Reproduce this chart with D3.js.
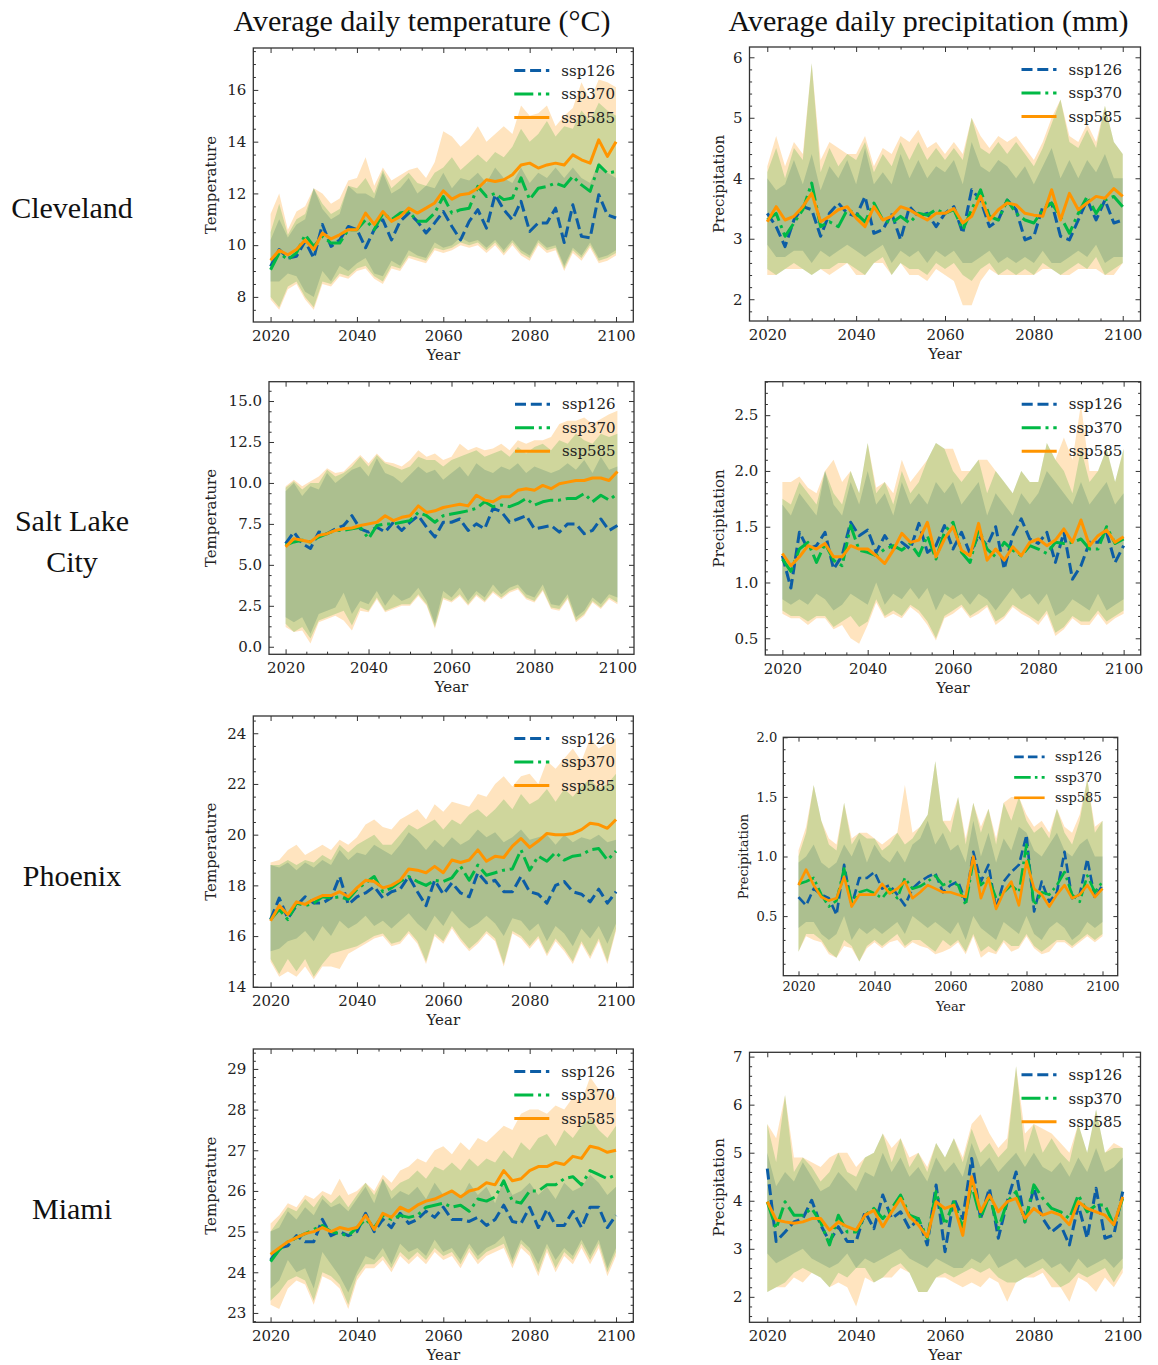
<!DOCTYPE html>
<html><head><meta charset="utf-8">
<script src="https://cdn.jsdelivr.net/npm/d3@7"></script>
<style>body{margin:0;background:#fff}svg{display:block}</style>
</head><body>
<script>
// ---------- DATA ----------
const YEARS=[2020,2022,2024,2026,2028,2030,2032,2034,2036,2038,2040,2042,2044,2046,2048,2050,2052,2054,2056,2058,2060,2062,2064,2066,2068,2070,2072,2074,2076,2078,2080,2082,2084,2086,2088,2090,2092,2094,2096,2098,2100];
const SERIES=["ssp126","ssp370","ssp585"];
const COLUMN_TITLES=["Average daily temperature (°C)","Average daily precipitation (mm)"];
const CITIES=[["Cleveland"],["Salt Lake","City"],["Phoenix"],["Miami"]];
const X_TICKS=[2020,2040,2060,2080,2100];

// Cleveland temperature
const CT126=[9.18,9.83,9.5,9.57,10.15,9.5,10.8,9.95,10.2,10.72,10.6,9.9,10.6,10.98,10.2,10.92,11.24,10.92,10.47,10.86,11.3,10.72,10.2,10.92,11.37,10.66,11.95,11.37,10.98,11.69,10.53,10.86,10.86,11.43,10.1,11.56,10.34,10.28,11.95,11.17,11.05];
const CT370=[9.05,9.7,9.44,9.7,10.4,9.95,10.34,10.08,10.08,10.6,10.6,10.98,10.6,11.24,10.98,11.24,11.3,10.92,10.92,11.24,11.88,11.24,11.37,11.43,12.27,11.88,12.0,11.76,11.82,12.6,11.76,12.2,12.27,12.4,12.27,12.66,12.33,12.08,13.1,12.78,12.85];
const CT585=[9.42,9.8,9.63,9.83,10.2,9.83,10.47,10.24,10.4,10.6,10.6,11.24,10.8,11.3,10.92,11.1,11.43,11.24,11.43,11.63,12.1,11.78,11.95,12.0,12.2,12.53,12.46,12.53,12.72,13.1,13.17,12.98,13.1,13.17,13.1,13.49,13.3,13.17,14.07,13.43,14.0];
const CT126lo=[8.6,8.6,8.9,8.8,8.2,8.0,9.0,8.6,9.2,9.0,9.3,9.5,8.9,8.8,9.4,9.2,9.8,9.6,9.5,10.1,9.9,10.0,10.3,10.1,10.2,9.9,10.2,9.8,10.2,9.8,9.6,10.2,9.9,10.0,9.2,9.9,9.6,10.1,9.5,9.6,9.8];
const CT126hi=[10.2,11.0,10.3,10.8,11.0,12.2,11.4,11.0,11.2,12.3,12.0,12.0,11.8,12.8,12.0,12.2,12.6,12.0,12.3,12.2,12.8,12.2,12.6,12.5,12.8,12.4,13.0,12.6,12.4,13.0,12.4,12.8,12.6,13.0,12.6,13.0,12.6,12.4,13.2,12.8,12.6];
const CT370lo=[8.0,7.6,8.4,8.6,8.0,7.6,8.6,8.5,8.9,8.8,9.1,9.2,8.8,8.6,9.2,9.1,9.6,9.5,9.4,9.9,9.8,9.9,10.1,10.0,10.1,9.8,10.1,9.7,10.1,9.7,9.5,10.1,9.8,9.9,9.1,9.8,9.5,10.0,9.4,9.5,9.7];
const CT370hi=[10.5,11.6,10.4,11.0,11.2,12.2,11.6,11.2,11.4,12.3,12.2,12.6,12.0,12.9,12.2,12.5,12.8,12.4,12.3,12.8,13.0,13.4,12.9,13.2,13.5,13.2,13.6,13.4,13.8,14.5,14.0,14.3,14.8,14.2,14.6,14.5,15.2,14.8,15.5,15.2,15.0];
const CT585lo=[7.9,7.5,8.3,8.5,7.9,7.5,8.5,8.4,8.8,8.7,9.0,9.1,8.7,8.5,9.1,9.0,9.5,9.4,9.3,9.8,9.7,9.8,10.0,9.9,10.0,9.7,10.0,9.6,10.0,9.6,9.4,10.0,9.7,9.8,9.0,9.7,9.4,9.9,9.3,9.4,9.6];
const CT585hi=[11.2,12.0,10.6,11.3,11.5,12.2,12.0,11.6,11.8,12.5,12.6,13.4,12.3,13.0,12.5,12.7,12.9,13.0,12.6,13.2,14.4,14.2,13.8,14.1,14.6,14.0,14.3,14.6,14.3,15.4,15.0,15.1,15.4,14.6,15.0,15.3,16.3,15.6,16.4,16.3,16.1];

// Cleveland precipitation
const CP126=[3.42,3.2,2.87,3.31,3.53,3.48,3.04,3.42,3.59,3.42,3.37,3.7,3.09,3.15,3.42,2.98,3.53,3.37,3.42,3.2,3.42,3.53,3.09,3.81,3.64,3.2,3.31,3.64,3.48,2.98,3.04,3.53,3.59,3.04,2.98,3.31,3.64,3.31,3.64,3.26,3.31];
const CP370=[3.31,3.42,3.04,3.26,3.48,3.92,3.2,3.28,3.2,3.48,3.42,3.28,3.59,3.31,3.26,3.37,3.26,3.42,3.39,3.48,3.42,3.48,3.15,3.48,3.81,3.37,3.31,3.64,3.42,3.31,3.26,3.48,3.59,3.37,3.09,3.42,3.7,3.42,3.64,3.7,3.53];
const CP585=[3.28,3.53,3.31,3.37,3.53,3.75,3.28,3.37,3.48,3.53,3.34,3.2,3.53,3.31,3.37,3.53,3.48,3.39,3.31,3.42,3.42,3.5,3.26,3.37,3.7,3.31,3.48,3.59,3.56,3.42,3.39,3.37,3.81,3.31,3.75,3.48,3.59,3.7,3.67,3.83,3.7];
const CP126lo=[2.9,2.7,2.7,2.8,2.8,2.6,2.8,2.7,2.8,2.9,2.8,2.7,2.8,2.9,2.6,2.8,2.7,2.8,2.6,2.8,2.7,2.8,2.6,2.6,2.7,2.8,2.6,2.7,2.6,2.7,2.6,2.8,2.6,2.6,2.7,2.8,2.7,2.9,2.6,2.7,2.7];
const CP126hi=[4.0,3.8,3.9,4.3,3.9,4.4,3.8,4.2,4.0,4.3,3.9,4.5,3.9,4.1,3.9,4.4,4.0,4.3,4.0,4.2,4.1,4.3,3.9,4.6,4.2,4.1,4.3,4.2,4.0,4.2,3.9,4.2,4.5,4.0,4.3,4.0,4.3,4.1,4.4,4.0,4.0];
const CP370lo=[2.5,2.4,2.5,2.6,2.5,2.4,2.5,2.5,2.6,2.6,2.5,2.4,2.6,2.7,2.4,2.6,2.5,2.5,2.4,2.6,2.5,2.6,2.4,2.3,2.5,2.6,2.4,2.5,2.4,2.5,2.4,2.6,2.5,2.4,2.5,2.6,2.5,2.7,2.4,2.5,2.6];
const CP370hi=[4.1,4.5,4.0,4.5,4.3,5.9,4.1,4.5,4.2,4.4,4.3,4.6,4.1,4.4,4.2,4.6,4.3,4.6,4.3,4.5,4.3,4.5,4.3,5.0,4.5,4.4,4.6,4.4,4.6,4.4,4.2,4.5,4.9,5.3,4.6,4.5,4.8,4.5,5.2,4.6,4.4];
const CP585lo=[2.4,2.4,2.5,2.5,2.5,2.4,2.5,2.4,2.5,2.6,2.4,2.4,2.6,2.6,2.4,2.6,2.4,2.4,2.3,2.5,2.4,2.3,1.9,1.9,2.3,2.5,2.4,2.4,2.4,2.4,2.4,2.5,2.5,2.4,2.4,2.5,2.5,2.5,2.4,2.4,2.6];
const CP585hi=[4.2,4.7,4.2,4.6,4.4,5.9,4.3,4.6,4.5,4.4,4.4,4.7,4.2,4.5,4.4,4.7,4.6,4.8,4.5,4.6,4.4,4.6,4.4,5.0,4.7,4.5,4.7,4.6,4.7,4.5,4.3,4.6,5.0,5.3,4.7,4.6,4.9,4.6,5.2,4.6,4.4];

// Salt Lake City temperature
const ST126=[6.3,7.0,6.3,6.0,7.0,6.9,7.2,7.4,8.0,7.2,7.0,7.3,7.0,7.6,7.1,7.6,8.0,7.3,6.7,7.6,7.6,7.8,7.1,7.5,7.2,8.45,8.25,7.6,7.8,8.0,7.2,7.3,7.4,7.0,7.5,7.5,6.9,7.1,7.8,7.1,7.4];
const ST370=[6.2,6.4,6.5,6.4,6.7,6.9,7.1,7.1,7.2,7.3,6.6,7.4,7.5,7.5,7.6,7.7,8.2,8.0,7.6,8.0,8.1,8.2,8.3,8.45,8.85,8.55,8.65,8.55,8.75,9.05,8.65,8.85,8.95,8.95,9.05,9.05,9.35,8.85,9.25,8.95,9.35];
const ST585=[6.1,6.6,6.5,6.4,6.8,6.9,7.1,7.2,7.25,7.4,7.5,7.6,8.0,7.7,7.9,8.0,8.6,8.2,8.3,8.5,8.6,8.7,8.6,9.25,8.95,8.85,9.15,9.15,9.55,9.65,9.55,9.85,9.65,9.95,10.05,10.15,10.15,10.3,10.3,10.15,10.7];
const ST126lo=[1.8,1.5,1.8,0.8,2.0,2.2,2.4,3.3,2.0,2.8,2.6,3.4,2.5,3.2,2.8,3.0,3.6,2.8,1.4,3.4,3.0,3.6,2.8,3.4,3.0,3.8,3.2,3.6,3.8,3.2,3.0,3.8,2.6,2.5,3.2,1.8,2.2,3.0,2.6,3.2,3.0];
const ST126hi=[9.5,10.0,9.2,9.8,9.6,10.6,10.0,10.4,10.8,11.0,10.4,11.5,10.6,10.4,10.0,10.5,11.0,10.6,10.8,10.2,10.6,11.0,10.4,11.2,10.8,10.6,11.0,10.8,11.2,10.6,11.0,10.8,10.6,10.8,11.2,10.8,11.4,10.6,11.6,10.8,11.0];
const ST370lo=[1.4,0.9,1.2,0.5,1.6,1.8,2.0,2.2,1.3,2.4,2.2,3.0,2.2,2.4,2.6,2.6,3.2,2.6,1.2,3.0,2.8,3.2,2.6,3.2,2.8,3.4,3.0,3.4,3.6,3.0,2.8,3.5,2.4,2.3,3.0,1.6,2.0,2.8,2.4,3.0,2.7];
const ST370hi=[9.7,10.1,9.6,10.0,10.0,10.8,10.4,10.6,11.0,11.6,11.0,11.7,11.2,11.0,10.8,11.0,11.6,11.4,11.4,11.0,11.4,11.6,11.8,12.0,11.6,11.8,12.0,11.6,12.2,11.8,12.2,12.4,12.0,12.6,12.4,13.0,12.6,12.4,13.0,12.8,13.0];
const ST585lo=[1.2,0.9,1.0,0.2,1.5,1.7,1.9,1.6,1.0,2.2,2.1,2.9,2.1,2.3,2.5,2.5,3.1,2.5,1.1,2.9,2.7,3.1,2.5,3.1,2.7,3.3,2.9,3.3,3.5,2.9,2.7,3.4,2.3,2.2,2.9,1.5,1.9,2.7,2.3,2.9,2.6];
const ST585hi=[9.8,10.2,9.8,10.1,10.4,10.9,10.6,10.7,11.2,11.7,11.2,11.8,11.3,11.2,11.0,11.4,12.0,11.6,11.8,11.4,11.6,12.4,12.0,12.2,12.0,12.1,12.4,12.0,12.6,12.4,12.6,12.6,12.8,13.6,13.8,13.8,14.0,13.6,13.9,14.2,14.4];

// Salt Lake City precipitation
const SP126=[1.24,0.95,1.45,1.30,1.33,1.45,1.12,1.24,1.54,1.42,1.47,1.27,1.42,1.30,1.36,1.30,1.53,1.27,1.33,1.51,1.30,1.45,1.26,1.42,1.33,1.50,1.12,1.42,1.57,1.39,1.35,1.45,1.18,1.45,1.03,1.15,1.36,1.36,1.45,1.18,1.33];
const SP370=[1.21,1.1,1.30,1.36,1.18,1.35,1.20,1.15,1.51,1.29,1.27,1.24,1.30,1.33,1.29,1.35,1.24,1.42,1.21,1.45,1.54,1.27,1.18,1.48,1.30,1.23,1.36,1.29,1.24,1.33,1.30,1.26,1.36,1.35,1.36,1.39,1.30,1.30,1.50,1.35,1.39];
const SP585=[1.26,1.15,1.23,1.33,1.30,1.35,1.23,1.23,1.33,1.30,1.30,1.24,1.17,1.29,1.44,1.36,1.38,1.54,1.23,1.39,1.50,1.29,1.24,1.53,1.20,1.30,1.20,1.32,1.24,1.36,1.39,1.33,1.38,1.48,1.36,1.56,1.33,1.42,1.47,1.36,1.41];
const SP126lo=[0.85,0.8,0.85,0.8,0.9,0.85,0.75,0.8,0.9,0.85,0.8,1.0,0.8,0.9,0.85,0.95,0.85,0.95,0.75,0.9,0.85,0.9,0.8,0.9,0.85,0.75,0.85,0.95,0.85,0.9,0.8,0.9,0.7,0.75,0.85,0.8,0.75,0.9,0.75,0.8,0.85];
const SP126hi=[1.7,1.6,1.8,1.7,1.6,2.0,1.7,1.6,1.9,1.7,2.0,1.7,1.8,1.6,1.9,1.7,1.8,1.7,1.9,1.8,1.9,1.7,1.8,1.9,1.6,1.8,1.7,1.6,1.8,1.7,1.8,2.0,1.9,1.8,1.7,1.9,1.7,1.8,1.9,1.7,1.8];
const SP370lo=[0.75,0.7,0.7,0.65,0.7,0.7,0.6,0.65,0.7,0.6,0.65,0.85,0.7,0.75,0.7,0.8,0.75,0.65,0.5,0.7,0.75,0.8,0.7,0.75,0.8,0.65,0.7,0.8,0.75,0.7,0.65,0.75,0.55,0.6,0.7,0.65,0.65,0.75,0.65,0.7,0.75];
const SP370hi=[1.75,1.7,1.9,1.8,1.7,2.0,1.8,1.7,2.0,1.8,2.25,1.8,1.9,1.7,2.0,1.8,1.9,2.1,2.25,2.2,2.0,1.9,2.0,2.1,1.8,2.0,1.9,1.8,2.0,1.9,1.9,2.25,2.1,2.0,1.8,2.2,1.9,2.0,2.2,1.9,2.2];
const SP585lo=[0.72,0.68,0.68,0.62,0.68,0.68,0.58,0.62,0.5,0.45,0.62,0.82,0.68,0.72,0.68,0.78,0.72,0.62,0.48,0.68,0.72,0.78,0.68,0.72,0.78,0.62,0.68,0.78,0.72,0.68,0.62,0.72,0.52,0.58,0.68,0.62,0.62,0.72,0.62,0.68,0.72];
const SP585hi=[1.9,1.9,1.95,1.85,1.8,2.0,2.1,1.9,2.0,1.8,2.25,1.85,1.9,1.8,2.1,1.9,2.0,2.1,2.25,2.2,2.2,2.0,2.0,2.1,2.1,2.0,1.9,1.8,2.0,1.9,1.9,2.25,2.1,2.3,2.1,2.6,2.0,2.0,2.2,1.9,2.2];

// Phoenix temperature
const PT126=[16.65,17.5,16.7,17.2,17.55,17.3,17.3,17.5,18.35,17.25,17.55,17.7,17.95,17.5,17.75,17.85,18.35,17.75,17.2,18.2,17.65,18.1,17.7,17.55,18.5,18.1,18.2,17.75,17.75,18.35,17.75,17.65,17.3,18.0,18.15,17.75,17.65,17.35,17.85,17.3,17.75];
const PT370=[16.65,17.05,16.65,17.3,17.2,17.3,17.55,17.5,17.55,17.45,17.85,18.1,18.35,17.75,17.9,18.15,18.35,18.15,18.0,18.2,18.15,18.3,18.75,18.2,18.8,18.4,18.5,18.6,18.65,19.4,18.6,19.15,18.95,19.3,19.0,19.15,19.2,19.4,19.45,19.0,19.35];
const PT585=[16.6,17.2,16.85,17.35,17.25,17.45,17.6,17.6,17.75,17.55,17.9,18.2,18.15,17.9,18.0,18.2,18.65,18.6,18.5,18.75,18.5,19.0,18.9,19.0,19.4,18.95,19.15,19.1,19.55,19.85,19.5,19.75,20.05,20.0,20.0,20.05,20.2,20.45,20.4,20.25,20.6];
const PT126lo=[15.4,15.5,15.8,15.9,16.2,15.8,16.4,16.0,16.6,16.3,16.5,16.8,16.4,16.6,16.3,16.6,16.9,16.5,16.2,16.8,16.4,17.0,16.6,16.3,16.5,16.8,16.5,16.0,16.7,16.6,16.2,16.5,15.8,16.4,16.1,15.6,16.3,15.9,16.4,15.7,16.5];
const PT126hi=[18.8,18.7,18.9,18.6,18.9,18.7,19.0,18.8,19.4,19.0,19.3,19.2,19.6,19.4,19.2,19.6,20.1,19.8,19.4,19.8,19.5,19.9,19.6,19.8,20.2,19.9,20.1,19.7,19.9,20.2,19.8,19.9,20.0,19.6,20.0,19.7,19.9,19.8,20.0,19.7,19.8];
const PT370lo=[15.1,14.5,15.1,14.6,15.1,14.4,14.9,15.3,15.4,15.5,15.6,15.8,16.0,16.1,15.7,15.8,16.2,15.8,15.0,16.1,15.8,16.4,15.9,15.5,15.8,16.2,15.9,14.9,16.2,16.0,15.6,16.0,15.3,15.9,15.5,15.0,15.8,15.2,15.9,15.0,16.3];
const PT370hi=[18.8,18.8,19.0,18.8,19.0,18.9,19.2,19.0,19.6,19.3,19.6,19.8,20.0,19.6,19.6,20.0,20.4,20.2,20.4,20.6,20.2,20.6,20.4,20.8,21.0,20.7,21.0,21.4,21.0,21.6,21.2,21.4,21.8,21.3,21.8,21.5,21.9,22.2,21.8,22.0,22.4];
const PT585lo=[15.0,14.4,14.6,14.4,14.8,14.3,14.8,14.8,14.7,15.3,15.5,15.7,15.9,16.0,15.6,15.7,16.1,15.7,14.9,16.0,15.7,16.3,15.8,15.4,15.7,16.1,15.8,14.8,16.1,15.9,15.5,15.9,15.2,15.8,15.4,14.9,15.7,15.1,15.8,14.9,16.2];
const PT585hi=[18.9,19.0,19.4,19.6,19.2,19.4,19.6,19.4,19.8,19.6,19.9,20.4,20.6,20.3,20.2,20.6,20.8,21.0,20.6,21.2,20.9,21.3,21.2,21.1,21.6,21.5,22.0,22.3,21.9,22.3,22.4,22.0,22.9,22.6,23.0,23.4,22.9,23.8,23.4,23.6,23.8];

// Phoenix precipitation
const PP126=[0.66,0.59,0.73,0.68,0.65,0.51,0.93,0.59,0.82,0.82,0.87,0.73,0.76,0.68,0.59,0.73,0.79,0.83,0.86,0.70,0.76,0.79,0.62,1.04,0.79,0.93,0.56,0.79,0.87,0.93,1.18,0.54,0.79,0.62,0.70,1.04,0.65,0.68,0.98,0.65,0.76];
const PP370=[0.77,0.79,0.82,0.68,0.58,0.63,0.90,0.62,0.70,0.72,0.69,0.65,0.73,0.65,0.82,0.73,0.75,0.79,0.84,0.76,0.79,0.76,0.59,0.96,0.76,0.82,0.65,0.70,0.76,0.70,1.10,0.59,0.70,0.68,0.76,0.87,0.68,0.62,0.84,0.70,0.79];
const PP585=[0.76,0.89,0.76,0.66,0.63,0.65,0.83,0.58,0.68,0.68,0.68,0.77,0.69,0.73,0.79,0.65,0.70,0.76,0.73,0.70,0.70,0.68,0.66,1.0,0.65,0.82,0.56,0.70,0.79,0.59,0.96,0.73,0.68,0.58,0.68,0.76,0.65,0.68,0.76,0.66,0.73];
const PP126lo=[0.4,0.45,0.45,0.35,0.3,0.35,0.5,0.3,0.4,0.35,0.4,0.35,0.4,0.45,0.35,0.5,0.45,0.4,0.45,0.4,0.35,0.45,0.3,0.5,0.4,0.35,0.3,0.45,0.4,0.35,0.5,0.35,0.3,0.4,0.45,0.4,0.3,0.35,0.45,0.4,0.45];
const PP126hi=[0.95,1.0,1.1,0.95,0.9,0.95,1.1,1.0,1.15,0.95,1.1,1.0,0.95,1.05,0.95,1.1,1.15,1.3,1.1,1.2,1.05,1.1,0.95,1.3,1.0,1.2,0.95,1.15,1.05,1.25,1.2,1.05,1.0,1.1,1.2,1.05,1.0,1.1,1.15,1.0,1.0];
const PP370lo=[0.2,0.35,0.35,0.3,0.2,0.15,0.3,0.25,0.12,0.25,0.3,0.25,0.3,0.35,0.25,0.3,0.3,0.25,0.2,0.3,0.25,0.3,0.2,0.35,0.2,0.25,0.2,0.3,0.25,0.25,0.35,0.25,0.2,0.25,0.3,0.3,0.25,0.3,0.35,0.3,0.35];
const PP370hi=[1.0,1.2,1.6,1.3,1.1,1.05,1.45,1.1,1.2,1.15,1.15,1.05,1.1,1.2,1.1,1.15,1.25,1.35,1.8,1.3,1.2,1.5,1.1,1.45,1.2,1.4,1.1,1.45,1.3,1.5,1.3,1.2,1.25,1.15,1.4,1.2,1.1,1.3,1.65,1.2,1.3];
const PP585lo=[0.2,0.33,0.3,0.28,0.18,0.15,0.25,0.23,0.12,0.23,0.28,0.23,0.28,0.3,0.23,0.28,0.25,0.23,0.18,0.2,0.23,0.28,0.18,0.33,0.15,0.2,0.18,0.28,0.2,0.23,0.33,0.23,0.18,0.2,0.28,0.28,0.23,0.28,0.33,0.28,0.33];
const PP585hi=[1.05,1.25,1.6,1.3,1.15,1.1,1.45,1.15,1.2,1.2,1.15,1.1,1.15,1.2,1.6,1.2,1.25,1.35,1.8,1.3,1.3,1.5,1.15,1.45,1.25,1.4,1.15,1.45,1.5,1.5,1.35,1.25,1.3,1.2,1.4,1.25,1.2,1.35,1.65,1.25,1.3];

// Miami temperature
const MT126=[24.3,24.6,24.65,24.9,24.75,24.75,25.3,24.9,25.0,24.9,25.0,25.45,25.0,25.3,25.1,25.45,25.2,25.3,25.5,25.35,25.6,25.3,25.3,25.25,25.35,25.15,25.3,25.65,25.25,25.2,25.6,25.1,25.55,25.15,25.15,25.5,25.1,25.6,25.6,25.1,25.4];
const MT370=[24.26,24.55,24.75,24.85,24.95,25.05,25.15,25.0,24.95,24.9,25.1,25.3,25.1,25.4,25.3,25.4,25.35,25.4,25.6,25.65,25.7,25.6,25.65,25.5,25.8,25.75,25.85,26.25,25.75,25.7,26.0,26.0,26.15,26.15,26.3,26.35,26.15,26.5,26.4,26.3,26.4];
const MT585=[24.44,24.6,24.75,24.85,24.95,25.0,25.1,25.0,25.1,25.05,25.1,25.4,25.05,25.45,25.35,25.6,25.5,25.65,25.75,25.8,25.9,26.0,25.85,26.0,26.05,26.2,26.15,26.5,26.25,26.3,26.5,26.6,26.6,26.7,26.65,26.85,26.8,27.1,27.05,26.95,27.0];
const MT126lo=[23.6,23.8,24.3,24.0,24.1,23.6,24.5,24.2,23.9,23.5,24.0,24.4,24.3,24.6,24.2,24.7,24.5,24.6,24.4,24.8,24.5,24.6,24.3,24.7,24.4,24.6,24.7,24.9,24.3,24.8,24.6,24.2,24.7,24.3,24.6,24.4,24.8,24.4,24.8,24.1,24.6];
const MT126hi=[25.0,25.1,25.5,25.3,25.6,25.4,25.8,25.6,25.7,25.5,25.8,26.1,25.7,26.3,25.8,26.0,25.9,26.1,25.8,26.2,25.9,26.0,25.8,26.2,25.9,26.1,25.7,26.3,25.9,26.0,26.2,25.9,26.1,25.8,26.2,26.0,26.1,26.4,26.2,25.9,26.1];
const MT370lo=[23.3,23.5,23.8,23.9,23.8,23.3,24.0,23.9,23.7,23.2,23.9,24.2,24.2,24.4,24.1,24.5,24.3,24.5,24.3,24.6,24.4,24.5,24.2,24.6,24.3,24.5,24.6,24.7,24.2,24.7,24.5,24.0,24.6,24.1,24.5,24.3,24.7,24.3,24.7,24.0,24.5];
const MT370hi=[25.0,25.3,25.6,25.5,25.8,25.6,25.9,25.7,25.9,25.6,25.9,26.2,25.9,26.3,26.0,26.2,26.3,26.5,26.3,26.6,26.5,26.7,26.5,26.8,26.6,26.8,26.7,27.0,26.8,27.2,27.0,27.3,27.4,27.1,27.5,27.3,27.6,27.8,27.5,27.3,27.6];
const MT585lo=[23.2,23.1,23.6,23.8,23.7,23.2,23.9,23.8,23.6,23.1,23.8,24.1,24.1,24.3,24.0,24.4,24.2,24.4,24.2,24.5,24.3,24.4,24.1,24.5,24.2,24.4,24.5,24.6,24.1,24.6,24.4,23.9,24.5,24.0,24.4,24.2,24.6,24.2,24.6,23.9,24.4];
const MT585hi=[25.2,25.4,25.7,25.6,25.9,25.8,26.0,25.9,26.3,25.9,26.0,26.2,26.0,26.4,26.2,26.5,26.6,26.8,26.7,27.0,27.1,26.9,27.2,27.0,27.3,27.2,27.4,27.6,27.5,27.9,28.0,28.0,27.9,28.1,28.0,28.3,28.2,28.8,28.5,28.4,28.3];

// Miami precipitation
const MP126=[4.67,3.15,3.35,3.56,3.63,4.01,3.5,3.15,3.46,3.15,3.15,3.77,3.42,4.12,3.63,3.77,3.42,3.63,3.08,4.33,2.94,4.05,3.63,4.88,3.63,4.26,3.22,3.98,4.6,3.56,4.26,3.63,3.35,3.5,3.08,3.91,3.22,4.26,3.22,3.29,4.19];
const MP370=[3.98,3.42,3.98,3.7,3.7,3.84,3.56,3.08,3.7,3.35,3.35,3.7,3.84,3.63,3.84,4.12,3.7,3.63,3.22,4.19,3.5,3.98,3.42,4.33,3.63,4.12,3.42,3.98,4.19,3.56,4.33,4.05,3.84,3.77,3.63,4.12,3.77,3.91,3.91,3.5,4.05];
const MP585=[3.98,3.6,3.56,3.53,3.56,3.63,3.63,3.39,3.56,3.46,3.39,3.7,3.8,3.46,3.77,4.05,3.67,3.5,3.25,3.98,3.84,3.91,3.28,4.5,3.77,4.12,3.77,3.98,4.05,3.63,3.84,3.7,3.77,3.7,3.5,3.98,3.84,3.77,3.7,3.5,4.08];
const MP126lo=[2.9,2.7,2.8,2.9,3.0,2.8,2.7,2.6,2.7,2.9,2.6,2.8,2.7,2.8,2.9,3.0,2.8,2.7,2.6,2.8,2.7,2.6,2.6,2.8,2.7,2.9,2.6,2.7,2.8,2.6,2.7,2.8,2.6,2.7,2.5,2.8,2.6,2.7,2.8,2.6,2.8];
const MP126hi=[5.0,4.3,4.6,4.4,4.8,4.5,4.2,4.3,4.6,4.4,4.2,4.6,4.5,5.0,4.6,4.9,4.5,4.7,4.4,4.9,4.6,4.8,4.5,5.2,4.7,4.9,4.6,4.8,5.0,4.7,5.0,4.7,4.6,4.8,4.5,4.9,4.6,5.1,4.6,4.7,4.9];
const MP370lo=[2.1,2.2,2.3,2.5,2.6,2.5,2.4,2.2,2.5,2.4,2.6,2.6,2.3,2.4,2.6,2.7,2.5,2.1,2.1,2.4,2.5,2.4,2.5,2.6,2.5,2.6,2.4,2.3,2.3,2.4,2.5,2.6,2.4,2.2,2.3,2.5,2.4,2.5,2.6,2.3,2.6];
const MP370hi=[5.6,4.8,6.2,4.6,4.9,4.7,4.4,4.6,5.0,4.6,4.5,4.9,5.0,5.4,4.8,5.3,4.7,5.0,4.6,5.2,4.9,5.3,4.8,5.5,5.0,5.2,4.9,5.1,6.8,5.0,5.6,5.0,5.3,5.0,4.8,5.6,5.0,5.9,5.0,5.1,5.1];
const MP585lo=[2.1,2.2,2.2,2.4,2.3,2.5,2.4,2.2,2.3,2.2,1.8,2.4,2.3,2.4,2.4,2.6,2.5,2.1,2.1,2.4,2.4,2.3,2.2,2.3,2.2,2.4,2.3,1.9,2.3,2.4,2.4,2.5,2.2,2.2,1.9,2.4,2.3,2.1,2.4,2.2,2.5];
const MP585hi=[5.6,5.3,6.2,4.9,4.9,4.8,4.7,4.9,5.0,5.0,4.7,4.9,5.0,5.4,5.1,5.3,4.9,5.0,4.7,5.2,4.9,5.3,4.9,5.6,5.8,5.4,5.1,5.3,6.8,5.4,5.6,5.5,5.4,5.2,5.0,5.6,5.0,5.9,5.0,5.2,5.1];

// ---------- STYLE / LAYOUT ----------
const COLORS=["#0C5DA5","#00B945","#FF9500"];
const DASHES=[[11,4.8],[19,4.8,3,4.8],null];
const SERIF="'DejaVu Serif', serif";
const TIMES="'Liberation Serif','Times New Roman',serif";
const fmtInt=d3.format("d"), fmt1=d3.format(".1f");

const panels=[
 {series:[[CT126,CT126lo,CT126hi],[CT370,CT370lo,CT370hi],[CT585,CT585lo,CT585hi]],ylab:"Temperature",
  x:253.3,y:48,w:380,h:274,ydom:[7.03,17.62],ticks:[8,10,12,14,16],major:2,minor:0.5,fmt:fmtInt,labX:216,s:1},
 {series:[[CP126,CP126lo,CP126hi],[CP370,CP370lo,CP370hi],[CP585,CP585lo,CP585hi]],ylab:"Precipitation",
  x:749.5,y:47,w:391,h:274,ydom:[1.64,6.17],ticks:[2,3,4,5,6],major:1,minor:0.2,fmt:fmtInt,labX:723.5,s:1},
 {series:[[ST126,ST126lo,ST126hi],[ST370,ST370lo,ST370hi],[ST585,ST585lo,ST585hi]],ylab:"Temperature",
  x:269,y:381.7,w:365,h:272.6,ydom:[-0.46,16.18],ticks:[0,2.5,5,7.5,10,12.5,15],major:2.5,minor:0.625,fmt:fmt1,labX:216,s:1},
 {series:[[SP126,SP126lo,SP126hi],[SP370,SP370lo,SP370hi],[SP585,SP585lo,SP585hi]],ylab:"Precipitation",
  x:765.3,y:381.7,w:375.4,h:273.3,ydom:[0.35,2.80],ticks:[0.5,1,1.5,2,2.5],major:0.5,minor:0.1,fmt:fmt1,labX:723.5,s:1},
 {series:[[PT126,PT126lo,PT126hi],[PT370,PT370lo,PT370hi],[PT585,PT585lo,PT585hi]],ylab:"Temperature",
  x:253.3,y:716,w:380,h:271.3,ydom:[13.98,24.68],ticks:[14,16,18,20,22,24],major:2,minor:0.5,fmt:fmtInt,labX:216,s:1},
 {series:[[PP126,PP126lo,PP126hi],[PP370,PP370lo,PP370hi],[PP585,PP585lo,PP585hi]],ylab:"Precipitation",
  x:783.3,y:737.3,w:334.4,h:238.4,ydom:[0,2],ticks:[0.5,1,1.5,2],major:0.5,minor:0.1,fmt:fmt1,labX:747.5,s:0.87},
 {series:[[MT126,MT126lo,MT126hi],[MT370,MT370lo,MT370hi],[MT585,MT585lo,MT585hi]],ylab:"Temperature",
  x:253.3,y:1049,w:380,h:273.3,ydom:[22.77,29.49],ticks:[23,24,25,26,27,28,29],major:1,minor:0.2,fmt:fmtInt,labX:216,s:1},
 {series:[[MP126,MP126lo,MP126hi],[MP370,MP370lo,MP370hi],[MP585,MP585lo,MP585hi]],ylab:"Precipitation",
  x:749.5,y:1052.3,w:391,h:270,ydom:[1.47,7.09],ticks:[2,3,4,5,6,7],major:1,minor:0.2,fmt:fmtInt,labX:723.5,s:1}
];

const svg=d3.select("body").append("svg").attr("width",1158).attr("height",1365);
svg.append("rect").attr("width",1158).attr("height",1365).attr("fill","#fff");

// column titles
[[422,COLUMN_TITLES[0]],[928.5,COLUMN_TITLES[1]]].forEach(([cx,t])=>{
  svg.append("text").attr("x",cx).attr("y",31).attr("text-anchor","middle")
    .attr("font-family",TIMES).attr("font-size",30).attr("fill","#111").text(t);
});
// row labels
const ROW_BASE=[[218],[531,572],[886],[1219]];
CITIES.forEach((lines,i)=>{
  lines.forEach((t,j)=>{
    svg.append("text").attr("x",72).attr("y",ROW_BASE[i][j]).attr("text-anchor","middle")
      .attr("font-family",TIMES).attr("font-size",30).attr("fill","#111").text(t);
  });
});

function minorTicks(dom,step,major){
  const lo=Math.min(dom[0],dom[1]),hi=Math.max(dom[0],dom[1]);
  const out=[];
  for(let k=Math.ceil(lo/step-1e-9);k*step<=hi+1e-9;k++){
    const v=+(k*step).toFixed(6);
    const r=v/major;
    if(Math.abs(r-Math.round(r))>1e-6) out.push(v);
  }
  return out;
}

panels.forEach((p,i)=>{
  const s=p.s;
  const x=d3.scaleLinear().domain([2016,2104]).range([p.x,p.x+p.w]);
  const y=d3.scaleLinear().domain(p.ydom).range([p.y+p.h,p.y]);
  const g=svg.append("g");
  const cid="clip"+i;
  svg.append("clipPath").attr("id",cid).append("rect")
    .attr("x",p.x).attr("y",p.y).attr("width",p.w).attr("height",p.h);
  const plot=g.append("g").attr("clip-path",`url(#${cid})`);

  // bands
  p.series.forEach((sd,k)=>{
    const area=d3.area().x((d,j)=>x(YEARS[j])).y0((d,j)=>y(sd[1][j])).y1((d,j)=>y(sd[2][j]));
    plot.append("path").datum(sd[0]).attr("d",area)
      .attr("fill",COLORS[k]).attr("fill-opacity",0.25).attr("stroke","none");
  });
  // lines
  p.series.forEach((sd,k)=>{
    const line=d3.line().x((d,j)=>x(YEARS[j])).y(d=>y(d));
    plot.append("path").datum(sd[0]).attr("d",line)
      .attr("fill","none").attr("stroke",COLORS[k]).attr("stroke-width",3*s)
      .attr("stroke-linejoin","round")
      .attr("stroke-dasharray",DASHES[k]?DASHES[k].map(v=>v*s).join(","):null);
  });

  const fs=15*s;
  const xMinor=minorTicks([2016,2104],5,20);
  const yMinor=minorTicks(p.ydom,p.minor,p.major);
  const style=sel=>{sel.select(".domain").remove();
    sel.attr("font-family",SERIF).attr("font-size",fs);
    sel.selectAll("line").attr("stroke","#333").attr("stroke-width",1);
    sel.selectAll("text").attr("fill","#222");};
  const M=5*s, m=2.6*s;
  g.append("g").attr("transform",`translate(0,${p.y+p.h})`)
    .call(d3.axisBottom(x).tickValues(X_TICKS).tickSize(-M).tickPadding(i===5?6.4:8).tickFormat(fmtInt)).call(style);
  g.append("g").attr("transform",`translate(0,${p.y+p.h})`)
    .call(d3.axisBottom(x).tickValues(xMinor).tickSize(-m).tickFormat("")).call(style);
  g.append("g").attr("transform",`translate(0,${p.y})`)
    .call(d3.axisTop(x).tickValues(X_TICKS).tickSize(-M).tickFormat("")).call(style);
  g.append("g").attr("transform",`translate(0,${p.y})`)
    .call(d3.axisTop(x).tickValues(xMinor).tickSize(-m).tickFormat("")).call(style);
  g.append("g").attr("transform",`translate(${p.x},0)`)
    .call(d3.axisLeft(y).tickValues(p.ticks).tickSize(-M).tickPadding(7*s).tickFormat(p.fmt)).call(style);
  g.append("g").attr("transform",`translate(${p.x},0)`)
    .call(d3.axisLeft(y).tickValues(yMinor).tickSize(-m).tickFormat("")).call(style);
  g.append("g").attr("transform",`translate(${p.x+p.w},0)`)
    .call(d3.axisRight(y).tickValues(p.ticks).tickSize(-M).tickFormat("")).call(style);
  g.append("g").attr("transform",`translate(${p.x+p.w},0)`)
    .call(d3.axisRight(y).tickValues(yMinor).tickSize(-m).tickFormat("")).call(style);

  g.append("rect").attr("x",p.x).attr("y",p.y).attr("width",p.w).attr("height",p.h)
    .attr("fill","none").attr("stroke","#333").attr("stroke-width",1.3);

  g.append("text").attr("x",p.x+p.w/2).attr("y",p.y+p.h+(i===5?35:38)).attr("text-anchor","middle")
    .attr("font-family",SERIF).attr("font-size",fs).attr("fill","#222").text("Year");
  g.append("text").attr("transform",`translate(${p.labX},${p.y+p.h/2}) rotate(-90)`).attr("text-anchor","middle")
    .attr("font-family",SERIF).attr("font-size",fs).attr("fill","#222").text(p.ylab);

  const right=p.x+p.w;
  const rows=[22.5,46,69.5];
  SERIES.forEach((name,k)=>{
    const ly=p.y+rows[k]*s;
    g.append("line").attr("x1",right-119*s).attr("x2",right-84*s).attr("y1",ly).attr("y2",ly)
      .attr("stroke",COLORS[k]).attr("stroke-width",3*s)
      .attr("stroke-dasharray",DASHES[k]?DASHES[k].map(v=>v*s).join(","):null);
    g.append("text").attr("x",right-72*s).attr("y",ly).attr("dy","0.35em")
      .attr("font-family",SERIF).attr("font-size",fs).attr("fill","#222").text(name);
  });
});
</script>
</body></html>
